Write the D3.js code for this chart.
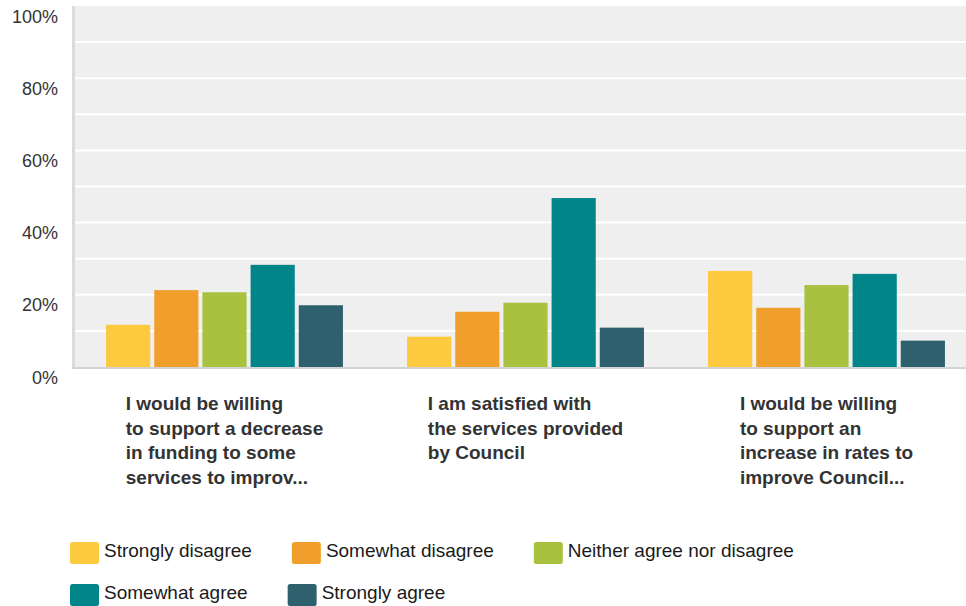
<!DOCTYPE html>
<html>
<head>
<meta charset="utf-8">
<script src="https://cdn.jsdelivr.net/npm/d3@7"></script>
<style>
  html, body { margin: 0; padding: 0; background: #ffffff; }
  svg { display: block; }
</style>
</head>
<body>
<svg id="chart" width="966" height="606"></svg>
<script>
// ---- data ----
const categories = ["decrease", "satisfied", "increase"];
const categoryLabels = [
  ["I would be willing", "to support a decrease", "in funding to some", "services to improv..."],
  ["I am satisfied with", "the services provided", "by Council"],
  ["I would be willing", "to support an", "increase in rates to", "improve Council..."]
];
const seriesNames = ["Strongly disagree", "Somewhat disagree", "Neither agree nor disagree", "Somewhat agree", "Strongly agree"];
const seriesColors = ["#fdc93e", "#f19f2c", "#a8c23f", "#028589", "#2e606e"];
const stronglyDisagree = [0.117, 0.084, 0.266];
const somewhatDisagree = [0.213, 0.153, 0.164];
const neitherAgree     = [0.207, 0.178, 0.227];
const somewhatAgree    = [0.283, 0.468, 0.258];
const stronglyAgree    = [0.171, 0.109, 0.073];
const yTicks = [0, 0.2, 0.4, 0.6, 0.8, 1.0];
const yGrid = [0.1, 0.2, 0.3, 0.4, 0.5, 0.6, 0.7, 0.8, 0.9];

const seriesValues = [stronglyDisagree, somewhatDisagree, neitherAgree, somewhatAgree, stronglyAgree];

// ---- layout ----
const svg = d3.select("#chart");
const plotLeft = 75, plotRight = 966, plotTop = 6, plotBottom = 367;

const y = d3.scaleLinear().domain([0, 1]).range([plotBottom, plotTop]);
const x0 = d3.scaleBand().domain(categories).range([74, 977]).paddingInner(0.213).paddingOuter(0.1065);
const x1 = d3.scaleBand().domain(seriesNames).range([0, x0.bandwidth()]).paddingInner(0.083);
const color = d3.scaleOrdinal().domain(seriesNames).range(seriesColors);

// plot background
svg.append("rect")
  .attr("x", plotLeft).attr("y", plotTop)
  .attr("width", plotRight - plotLeft).attr("height", plotBottom - plotTop)
  .attr("fill", "#efefef");

// gridlines
svg.append("g").selectAll("line").data(yGrid).join("line")
  .attr("x1", plotLeft).attr("x2", plotRight)
  .attr("y1", d => y(d)).attr("y2", d => y(d))
  .attr("stroke", "#ffffff").attr("stroke-width", 2);

// bars
const groups = svg.append("g").selectAll("g").data(categories).join("g")
  .attr("transform", d => `translate(${x0(d)},0)`);
groups.selectAll("rect")
  .data((c, ci) => seriesNames.map((s, si) => ({ s, v: seriesValues[si][ci] })))
  .join("rect")
  .attr("x", d => x1(d.s))
  .attr("width", x1.bandwidth())
  .attr("y", d => y(d.v))
  .attr("height", d => y(0) - y(d.v))
  .attr("fill", d => color(d.s));

// axis lines
svg.append("line")
  .attr("x1", 73.5).attr("x2", 73.5).attr("y1", plotTop).attr("y2", plotBottom + 2)
  .attr("stroke", "#dcdcdc").attr("stroke-width", 3);
svg.append("line")
  .attr("x1", 72).attr("x2", plotRight).attr("y1", plotBottom + 1).attr("y2", plotBottom + 1)
  .attr("stroke", "#d3d3d3").attr("stroke-width", 2);

// y axis labels
const yAxis = d3.axisLeft(y).tickValues(yTicks).tickFormat(d3.format(".0%")).tickSize(0).tickPadding(0);
const yg = svg.append("g").attr("transform", "translate(58,0)").call(yAxis);
yg.select(".domain").remove();
yg.selectAll("text")
  .attr("dy", "16px")
  .attr("font-family", "'Liberation Sans', Arial, sans-serif")
  .attr("font-size", "18px")
  .attr("fill", "#333333");

// category labels (lines left-aligned, block centered on band)
categories.forEach((c, ci) => {
  const g = svg.append("g");
  const t = g.append("text")
    .attr("font-family", "'Liberation Sans', Arial, sans-serif")
    .attr("font-size", "19px")
    .attr("font-weight", "bold")
    .attr("fill", "#333333");
  t.selectAll("tspan").data(categoryLabels[ci]).join("tspan")
    .attr("x", 0)
    .attr("y", (d, i) => 410 + i * 24.5)
    .text(d => d);
  let maxW = 0;
  t.selectAll("tspan").each(function () { maxW = Math.max(maxW, this.getComputedTextLength()); });
  const cx = x0(c) + x0.bandwidth() / 2;
  g.attr("transform", `translate(${cx - maxW / 2},0)`);
});

// legend
const legendRows = [[0, 1, 2], [3, 4]];
const rowY = [542, 584];
legendRows.forEach((row, ri) => {
  let xPos = 70;
  row.forEach(si => {
    const g = svg.append("g").attr("transform", `translate(${xPos},${rowY[ri]})`);
    g.append("rect")
      .attr("width", 29).attr("height", 22).attr("rx", 2.5)
      .attr("fill", seriesColors[si]);
    const t = g.append("text")
      .attr("x", 34).attr("y", 15)
      .attr("font-family", "'Liberation Sans', Arial, sans-serif")
      .attr("font-size", "19px")
      .attr("fill", "#1a1a1a")
      .text(seriesNames[si]);
    xPos += 34 + t.node().getComputedTextLength() + 40;
  });
});
</script>
</body>
</html>
